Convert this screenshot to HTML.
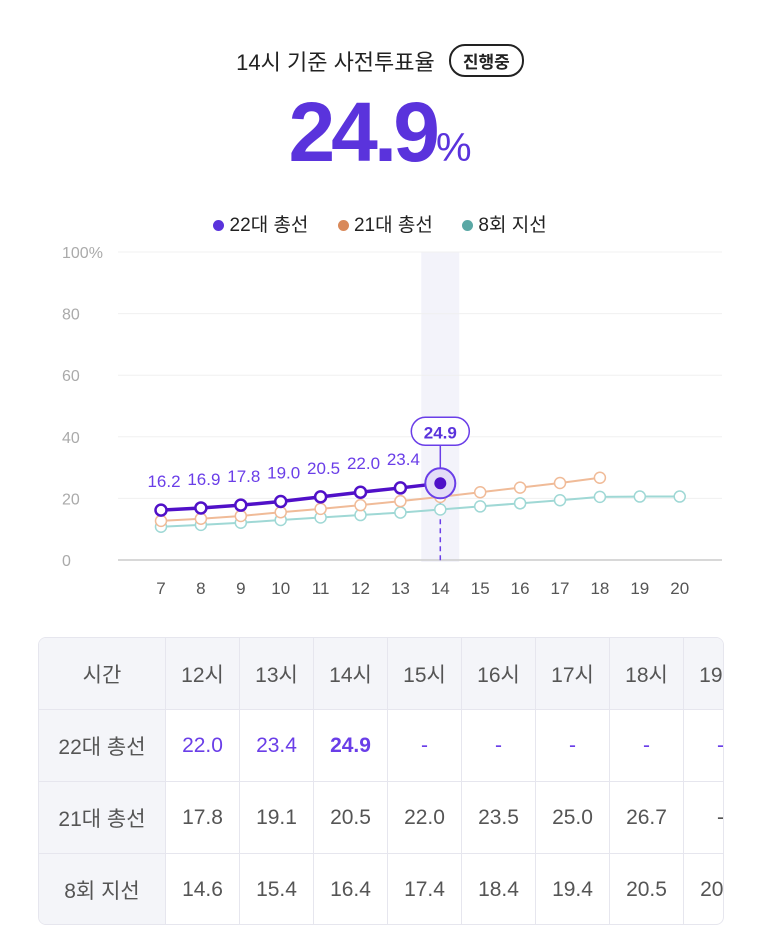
<!DOCTYPE html>
<html><head><meta charset="utf-8"><style>
body{margin:0;width:760px;height:931px;background:#fff;font-family:"Liberation Sans","Noto Sans CJK KR",sans-serif;position:relative;overflow:hidden}
.abs{position:absolute}
table{border-collapse:collapse;font-size:21px;color:#555;table-layout:fixed;width:793px}
td{border:1px solid #e6e6ee;height:71px;text-align:center;padding:0;white-space:nowrap;overflow:hidden}
td.h{background:#f4f5f9}
td.lab{background:#f4f5f9}
.p{color:#6a3ee8}
</style></head><body>
<div class="abs" style="left:0;top:44px;width:760px;text-align:center;font-size:22px;color:#222">
<span>14시 기준 사전투표율</span>
<span style="display:inline-block;margin-left:8px;border:2px solid #222;border-radius:16px;padding:2px 12px;font-size:17px;font-weight:bold;vertical-align:2px">진행중</span></div>
<div class="abs" style="left:0;top:84px;width:760px;text-align:center;color:#5a33dc;font-size:84px;font-weight:bold;letter-spacing:-4px">24.9<span style="font-size:40px;font-weight:normal;letter-spacing:0">%</span></div>
<div class="abs" style="left:0;top:210px;width:760px;text-align:center;font-size:19px;color:#222">
<span><span style="display:inline-block;width:11px;height:11px;border-radius:50%;background:#5a33dc"></span> 22대 총선</span>
<span style="margin-left:24px"><span style="display:inline-block;width:11px;height:11px;border-radius:50%;background:#d9895a"></span> 21대 총선</span>
<span style="margin-left:24px"><span style="display:inline-block;width:11px;height:11px;border-radius:50%;background:#5aa8a5"></span> 8회 지선</span></div>
<svg class="abs" style="left:0;top:0" width="760" height="620" id="chart"></svg>
<div class="abs" style="left:38px;top:637px;width:686px;height:288px;overflow:hidden;border:1px solid #e6e6ee;border-radius:8px;box-sizing:border-box">
<table style="margin:-1px">
<colgroup><col style="width:127px"><col style="width:74px"><col style="width:74px"><col style="width:74px"><col style="width:74px"><col style="width:74px"><col style="width:74px"><col style="width:74px"><col style="width:74px"><col style="width:74px"></colgroup>
<tr><td class="lab">시간</td><td class="h">12시</td><td class="h">13시</td><td class="h">14시</td><td class="h">15시</td><td class="h">16시</td><td class="h">17시</td><td class="h">18시</td><td class="h">19시</td><td class="h">20시</td></tr>
<tr><td class="lab">22대 총선</td><td class="p">22.0</td><td class="p">23.4</td><td class="p" style="font-weight:bold">24.9</td><td class="p">-</td><td class="p">-</td><td class="p">-</td><td class="p">-</td><td class="p">-</td><td class="p">-</td></tr>
<tr><td class="lab">21대 총선</td><td>17.8</td><td>19.1</td><td>20.5</td><td>22.0</td><td>23.5</td><td>25.0</td><td>26.7</td><td>-</td><td>-</td></tr>
<tr><td class="lab">8회 지선</td><td>14.6</td><td>15.4</td><td>16.4</td><td>17.4</td><td>18.4</td><td>19.4</td><td>20.5</td><td>20.6</td><td>20.6</td></tr>
</table></div>
<script>
const hours=[7,8,9,10,11,12,13,14,15,16,17,18,19,20];
const s22=[16.2,16.9,17.8,19.0,20.5,22.0,23.4,24.9];
const s21=[12.7,13.4,14.3,15.5,16.6,17.8,19.1,20.5,22.0,23.5,25.0,26.7];
const s8=[10.8,11.4,12.1,13.0,13.8,14.6,15.4,16.4,17.4,18.4,19.4,20.5,20.6,20.6];
const yTicks=[0,20,40,60,80,100];
const cur=14;
const svg=document.getElementById('chart');const NS='http://www.w3.org/2000/svg';
const X=h=>161+(h-7)*39.9, Y=v=>560-v*3.08;
function mk(t,a,name){const e=document.createElementNS(NS,t);for(const k in a)e.setAttribute(k,a[k]);


svg.appendChild(e);return e;}
mk('rect',{x:X(cur)-19,y:252,width:38,height:310,fill:'#f3f3fa'},'current-hour-band');
yTicks.forEach(v=>{mk('line',{x1:118,x2:722,y1:Y(v),y2:Y(v),stroke:v?'#f0f0f0':'#ccc','stroke-width':v?1:1.5},'grid-line');
const t=mk('text',{x:62,y:Y(v)+6,'font-size':16,fill:'#aaa'},'y-tick-label');t.textContent=v+(v==100?'%':'');});
hours.forEach(h=>{const t=mk('text',{x:X(h),y:594,'font-size':17,fill:'#555','text-anchor':'middle'},'x-tick-label');t.textContent=h;});
mk('line',{x1:X(cur),x2:X(cur),y1:Y(s22[s22.length-1]),y2:562,stroke:'#6a3ee8','stroke-width':1.5,'stroke-dasharray':'5,4'},'current-dash');
function series(d,col,w,r,name){mk('polyline',{points:d.map((v,i)=>X(hours[i])+','+Y(v)).join(' '),fill:'none',stroke:col,'stroke-width':w},name+'-line');
d.forEach((v,i)=>{if(name=='s22'&&i==d.length-1)return;mk('circle',{cx:X(hours[i]),cy:Y(v),r:r,fill:'#fff',stroke:col,'stroke-width':1.5+(w>2?1:0)},name+'-point');});}
series(s8,'#9fd8d5',2,5.5,'s8');series(s21,'#f0bb98',2,5.5,'s21');series(s22,'#5010c8',3.5,5.5,'s22');
s22.slice(0,-1).forEach((v,i)=>{const t=mk('text',{x:X(hours[i])+3,y:Y(v)-23,'font-size':17,fill:'#6a3ee8','text-anchor':'middle'},'value-label');t.textContent=v.toFixed(1);});
const lv=s22[s22.length-1],cx=X(cur),cy=Y(lv);
mk('circle',{cx:cx,cy:cy,r:15,fill:'#e4dcf7',stroke:'#6a3ee8','stroke-width':2},'current-halo');
mk('circle',{cx:cx,cy:cy,r:6,fill:'#5010c8'},'current-point');
mk('line',{x1:cx,x2:cx,y1:cy-15,y2:cy-38,stroke:'#6a3ee8','stroke-width':1.5},'callout-stem');
mk('rect',{x:cx-29,y:cy-66,width:58,height:28,rx:14,fill:'#fff',stroke:'#6a3ee8','stroke-width':1.5},'callout-box');
const ct=mk('text',{x:cx,y:cy-45,'font-size':17,'font-weight':'bold',fill:'#5a33dc','text-anchor':'middle'},'callout-text');ct.textContent=lv.toFixed(1);
</script>
</body></html>
